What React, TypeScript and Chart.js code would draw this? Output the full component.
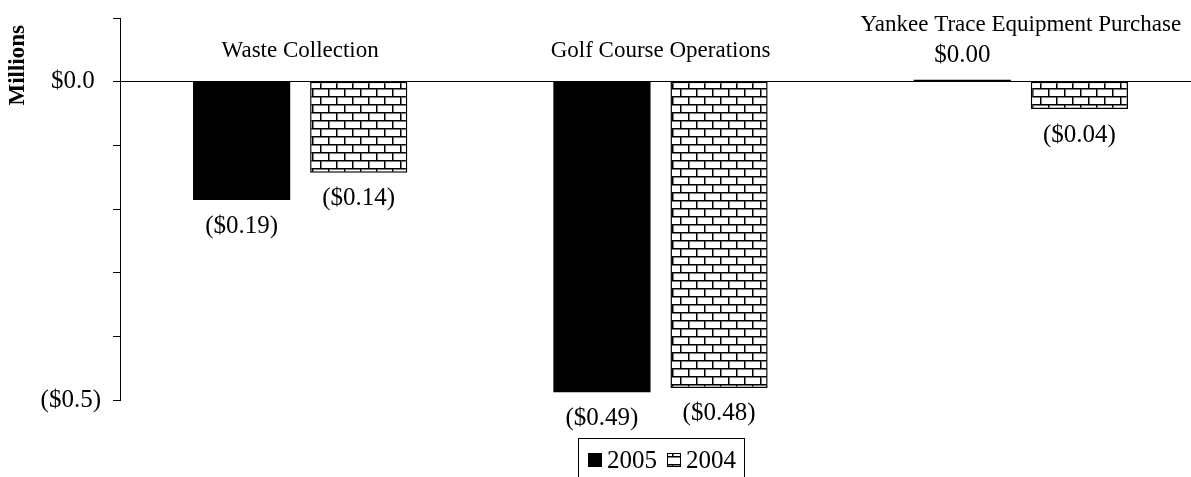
import React, { useEffect, useRef } from "react";
import { Chart, registerables } from "chart.js";

Chart.register(...registerables);

const categories = ["Waste Collection", "Golf Course Operations", "Yankee Trace Equipment Purchase"];
const seriesLabels = ["2005", "2004"];
const values2005 = [-0.186, -0.488, 0.003];
const values2004 = [-0.143, -0.481, -0.043];
const yMin = -0.5;
const yMax = 0.1;
const yStep = 0.1;
const yTickValues = [0, -0.5];
const yTickTexts = ["$0.0 ", "($0.5)"];
const axisTitle = "Millions";

const FONT = "'Liberation Serif', 'Times New Roman', serif";

const fmt = (v: number) => (v < 0 ? `($${Math.abs(v).toFixed(2)})` : `$${v.toFixed(2)}`);

export default function App() {
  const ref = useRef<HTMLCanvasElement>(null);

  useEffect(() => {
    document.body.style.margin = "0";
    const canvas = ref.current!;
    const tile = document.createElement("canvas");
    tile.width = 16;
    tile.height = 16;
    const t = tile.getContext("2d")!;
    t.fillStyle = "#fff";
    t.fillRect(0, 0, 16, 16);
    t.fillStyle = "#777";
    t.fillRect(0, 1, 16, 1);
    t.fillRect(0, 9, 16, 1);
    t.fillRect(1, 2, 1, 6);
    t.fillRect(9, 10, 1, 6);
    t.fillStyle = "#000";
    t.fillRect(0, 0, 16, 1);
    t.fillRect(0, 8, 16, 1);
    t.fillRect(0, 1, 1, 7);
    t.fillRect(8, 9, 1, 7);
    const pattern = canvas.getContext("2d")!.createPattern(tile, "repeat")!;

    const labelPlugin = {
      id: "labels",
      afterDatasetsDraw(chart: any) {
        const ctx = chart.ctx;
        const xs = chart.scales.x;
        const ys = chart.scales.y;
        const zeroY = ys.getPixelForValue(0);
        ctx.save();
        ctx.fillStyle = "#000";
        ctx.textAlign = "center";
        ctx.textBaseline = "middle";
        ctx.font = `25px ${FONT}`;
        const topMost: number[] = categories.map(() => zeroY);
        chart.data.datasets.forEach((ds: any, di: number) => {
          const meta = chart.getDatasetMeta(di);
          meta.data.forEach((el: any, i: number) => {
            const v = ds.data[i];
            const y = v < 0 ? el.y + 26 : el.y - 24;
            ctx.fillText(fmt(v), el.x, y);
            if (v >= 0) topMost[i] = Math.min(topMost[i], y);
          });
        });
        ctx.font = `23px ${FONT}`;
        categories.forEach((c, i) => {
          ctx.fillText(c, xs.getPixelForValue(i), topMost[i] - 31);
        });
        // axis title
        ctx.save();
        ctx.font = `bold 23px ${FONT}`;
        ctx.translate(18, chart.chartArea.top + 7);
        ctx.rotate(-Math.PI / 2);
        ctx.textAlign = "right";
        ctx.fillText(axisTitle, 0, 0);
        ctx.restore();
        // legend
        ctx.font = `25px ${FONT}`;
        const box = 14;
        const gap = 5;
        const padL = 10;
        const between = 10;
        const widths = seriesLabels.map((s) => ctx.measureText(s).width);
        const total = padL + box + gap + widths[0] + between + box + gap + widths[1] + 8;
        const cx = (chart.chartArea.left + chart.chartArea.right) / 2;
        const left = Math.round(cx - total / 2);
        const top = chart.chartArea.bottom + 38;
        ctx.strokeStyle = "#000";
        ctx.lineWidth = 1;
        ctx.strokeRect(left + 0.5, top + 0.5, total, 60);
        const cy = top + 22;
        let x = left + padL;
        const fills = [chart.data.datasets[0].backgroundColor, chart.data.datasets[1].backgroundColor];
        seriesLabels.forEach((s, i) => {
          ctx.fillStyle = fills[i];
          ctx.fillRect(x, cy - box / 2, box, box);
          ctx.strokeStyle = "#000";
          ctx.strokeRect(x + 0.5, cy - box / 2 + 0.5, box - 1, box - 1);
          x += box + gap;
          ctx.fillStyle = "#000";
          ctx.textAlign = "left";
          ctx.fillText(s, x, cy + 1);
          x += widths[i] + between;
        });
        ctx.restore();
      },
    };

    const chart = new Chart(canvas, {
      type: "bar",
      data: {
        labels: categories,
        datasets: [
          { label: seriesLabels[0], data: values2005, backgroundColor: "#000", borderWidth: 0 },
          {
            label: seriesLabels[1],
            data: values2004,
            backgroundColor: pattern as any,
            borderColor: "#000",
            borderWidth: 1.5,
            borderSkipped: false,
          },
        ],
      },
      options: {
        responsive: false,
        animation: false,
        layout: { padding: { left: 0, right: 19, top: 18, bottom: 77 } },
        datasets: { bar: { categoryPercentage: 0.65, barPercentage: 0.83 } },
        plugins: { legend: { display: false }, tooltip: { enabled: false } },
        scales: {
          x: {
            position: { y: 0 } as any,
            ticks: { display: false },
            grid: { display: true, drawOnChartArea: false, drawTicks: false },
            border: { display: true, color: "#000", width: 1 },
          },
          y: {
            min: yMin,
            max: yMax,
            ticks: {
              stepSize: yStep,
              padding: 12,
              color: "#000",
              font: { family: FONT, size: 25 },
              callback: (v: any) => {
                const idx = yTickValues.findIndex((t) => Math.abs(t - Number(v)) < 1e-9);
                return idx >= 0 ? yTickTexts[idx] : "";
              },
            },
            grid: { drawOnChartArea: false, tickLength: 7, color: "#000" },
            border: { display: true, color: "#000", width: 1 },
            afterFit: (s: any) => {
              s.width = 120;
              s.paddingTop = 0;
              s.paddingBottom = 0;
            },
          },
        },
      },
      plugins: [labelPlugin],
    });
    return () => chart.destroy();
  }, []);

  return (
    <div style={{ width: 1191, height: 477, overflow: "hidden", position: "relative" }}>
      <canvas ref={ref} width={1220} height={477} style={{ display: "block" }} />
    </div>
  );
}
